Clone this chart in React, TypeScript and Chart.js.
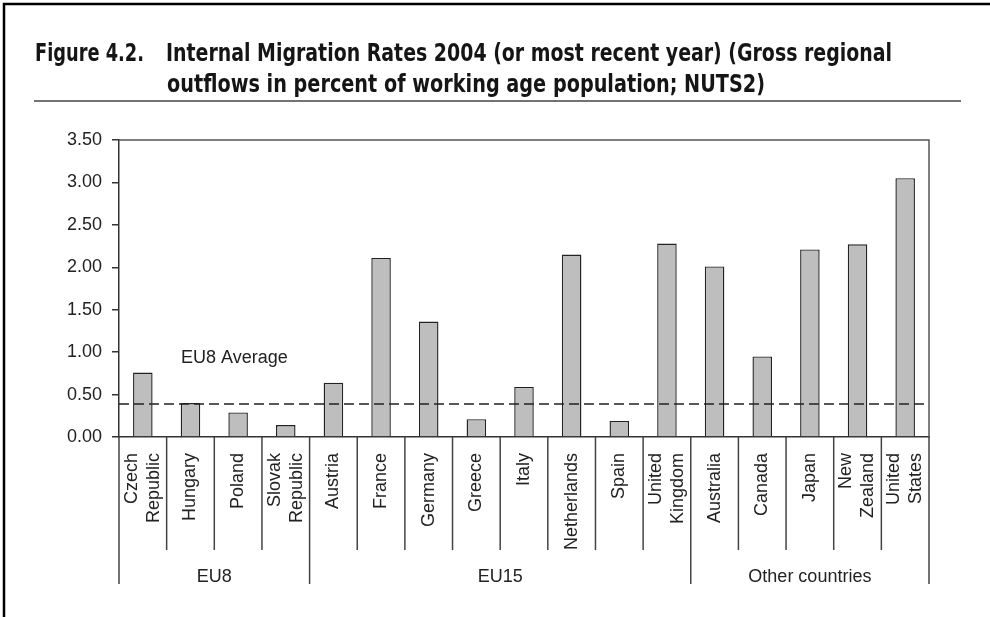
import { useEffect, useRef } from 'react';
import { Chart, registerables } from 'chart.js';

Chart.register(...registerables);

const categories: string[][] = [
  ['Czech', 'Republic'], ['Hungary'], ['Poland'], ['Slovak', 'Republic'],
  ['Austria'], ['France'], ['Germany'], ['Greece'], ['Italy'], ['Netherlands'], ['Spain'], ['United', 'Kingdom'],
  ['Australia'], ['Canada'], ['Japan'], ['New', 'Zealand'], ['United', 'States'],
];
const rates: number[] = [0.76, 0.40, 0.29, 0.14, 0.64, 2.11, 1.36, 0.21, 0.59, 2.15, 0.19, 2.28, 2.01, 0.95, 2.21, 2.27, 3.05];
const groupLabels: string[] = ['EU8', 'EU15', 'Other countries'];
const groupSizes: number[] = [4, 8, 5];
const eu8Average = 0.39;
const averageLabel = 'EU8 Average';
const yMin = 0;
const yMax = 3.5;
const yStep = 0.5;
const titleLead = 'Figure 4.2.';
const titleLine1 = 'Internal Migration Rates 2004 (or most recent year) (Gross regional';
const titleLine2 = 'outflows in percent of working age population; NUTS2)';

const FONT = "'Liberation Sans', Arial, sans-serif";
const TITLE_FONT = "bold 25px 'Liberation Sans Narrow', 'DejaVu Sans Condensed', sans-serif";

const decor = {
  id: 'decor',
  beforeDraw(chart: any) {
    const ctx = chart.ctx as CanvasRenderingContext2D;
    ctx.save();
    ctx.fillStyle = '#fff';
    ctx.fillRect(0, 0, chart.width, chart.height);
    // frame
    ctx.strokeStyle = '#000';
    ctx.lineWidth = 2.5;
    ctx.beginPath();
    ctx.moveTo(4, chart.height);
    ctx.lineTo(4, 4);
    ctx.lineTo(chart.width, 4);
    ctx.stroke();
    // title
    ctx.fillStyle = '#151515';
    ctx.font = TITLE_FONT;
    ctx.textBaseline = 'alphabetic';
    ctx.textAlign = 'left';
    const put = (t: string, x: number, y: number, w: number) => {
      const sx = w / ctx.measureText(t).width;
      ctx.save();
      ctx.translate(x, y);
      ctx.scale(sx, 1);
      ctx.fillText(t, 0, 0);
      ctx.restore();
    };
    put(titleLead, 35, 61, 109);
    put(titleLine1, 166, 61, 726);
    put(titleLine2, 167, 92, 598);
    // rule
    ctx.strokeStyle = '#444';
    ctx.lineWidth = 1.5;
    ctx.beginPath();
    ctx.moveTo(34, 101);
    ctx.lineTo(961, 101);
    ctx.stroke();
    ctx.restore();
  },
  afterDatasetsDraw(chart: any) {
    const ctx = chart.ctx as CanvasRenderingContext2D;
    const { left, right, top, bottom } = chart.chartArea;
    const xs = chart.scales.x;
    const ys = chart.scales.y;
    ctx.save();
    // top & right border
    ctx.strokeStyle = '#555';
    ctx.lineWidth = 1.5;
    ctx.beginPath();
    ctx.moveTo(left, top);
    ctx.lineTo(right, top);
    ctx.lineTo(right, bottom);
    ctx.stroke();
    // average line
    const ay = ys.getPixelForValue(eu8Average);
    ctx.strokeStyle = '#222';
    ctx.lineWidth = 1.5;
    ctx.setLineDash([10, 5]);
    ctx.beginPath();
    ctx.moveTo(left, ay);
    ctx.lineTo(right, ay);
    ctx.stroke();
    ctx.setLineDash([]);
    // average label
    ctx.fillStyle = '#222';
    ctx.font = `18px ${FONT}`;
    ctx.textAlign = 'left';
    ctx.textBaseline = 'middle';
    ctx.fillText(averageLabel, left + 62, ys.getPixelForValue(0.93));
    // category labels (rotated, centred on each category)
    const lh = 22;
    categories.forEach((lines, i) => {
      const cx = xs.getPixelForValue(i);
      lines.forEach((t, j) => {
        const x = cx + (j - (lines.length - 1) / 2) * lh;
        ctx.save();
        ctx.translate(x, bottom + 16);
        ctx.rotate(-Math.PI / 2);
        ctx.textAlign = 'right';
        ctx.textBaseline = 'middle';
        ctx.fillText(t, 0, 0);
        ctx.restore();
      });
    });
    // separators
    const n = categories.length;
    const b: number[] = [];
    for (let k = 0; k <= n; k++) {
      if (k === 0) b.push(left);
      else if (k === n) b.push(right);
      else b.push((xs.getPixelForValue(k - 1) + xs.getPixelForValue(k)) / 2);
    }
    const groupEdges = new Set<number>([0]);
    let acc = 0;
    groupSizes.forEach((s) => { acc += s; groupEdges.add(acc); });
    ctx.strokeStyle = '#444';
    ctx.lineWidth = 1.5;
    for (let k = 0; k <= n; k++) {
      const len = groupEdges.has(k) ? 147 : 113;
      ctx.beginPath();
      ctx.moveTo(b[k], bottom);
      ctx.lineTo(b[k], bottom + len);
      ctx.stroke();
    }
    // group labels
    ctx.textAlign = 'center';
    ctx.textBaseline = 'middle';
    let start = 0;
    groupLabels.forEach((g, i) => {
      const end = start + groupSizes[i];
      ctx.fillText(g, (b[start] + b[end]) / 2, bottom + 140);
      start = end;
    });
    ctx.restore();
  },
};

export default function App() {
  const ref = useRef<HTMLCanvasElement | null>(null);
  useEffect(() => {
    if (!ref.current) return;
    const chart = new Chart(ref.current, {
      type: 'bar',
      data: {
        labels: categories.map((l) => l.join(' ')),
        datasets: [
          {
            data: rates,
            backgroundColor: '#bebebe',
            borderColor: '#222',
            borderWidth: 1.4,
            barPercentage: 0.41,
            categoryPercentage: 1,
          },
        ],
      },
      options: {
        responsive: false,
        animation: false,
        layout: { padding: { left: 0, top: 140, right: 61, bottom: 0 } },
        plugins: { legend: { display: false }, tooltip: { enabled: false } },
        scales: {
          x: {
            grid: { display: false, drawTicks: false },
            border: { color: '#333', width: 1.5 },
            ticks: { display: false },
            afterFit: (s: any) => { s.height = 180; },
          },
          y: {
            min: yMin,
            max: yMax,
            grid: { drawOnChartArea: false, drawTicks: true, tickLength: 7, color: '#333', lineWidth: 1.5 },
            border: { color: '#333', width: 1.5 },
            ticks: {
              stepSize: yStep,
              padding: 10,
              color: '#222',
              font: { family: FONT, size: 18 },
              callback: (v: any) => Number(v).toFixed(2),
            },
            afterFit: (s: any) => { s.width = 119; },
          },
        },
      },
      plugins: [decor],
    });
    return () => chart.destroy();
  }, []);
  return (
    <div style={{ position: 'fixed', left: 0, top: 0, width: 990, height: 617, background: '#fff' }}>
      <canvas ref={ref} width={990} height={617} style={{ display: 'block' }} />
    </div>
  );
}
